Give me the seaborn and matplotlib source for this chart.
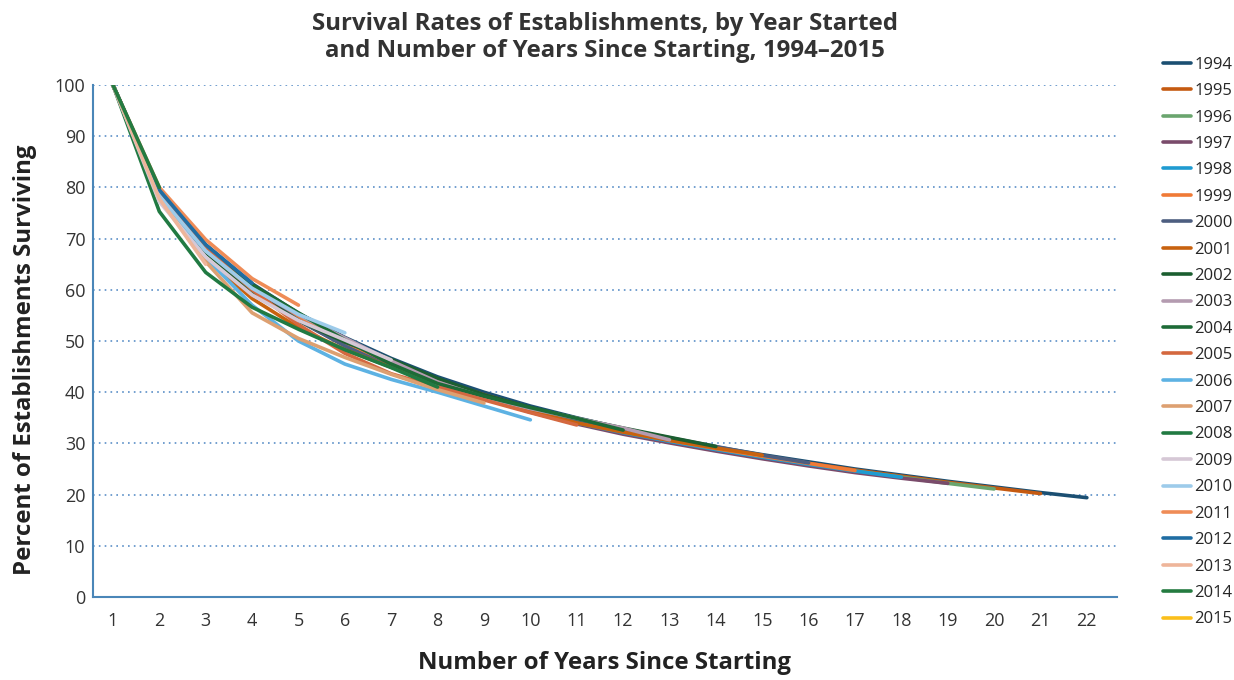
import pandas as pd
import matplotlib
matplotlib.use("Agg")
import matplotlib.pyplot as plt
import seaborn as sns

# survival (%) by number of years since starting, one list per start year
cohorts = [str(y) for y in range(1994, 2016)]
s1994 = [100, 79.5, 68.8, 61.2, 55.4, 50.7, 46.6, 43.0, 40.0, 37.3, 35.0, 32.9, 31.0, 29.3, 27.8, 26.4, 25.0, 23.8, 22.6, 21.5, 20.4, 19.4]
s1995 = [100, 79.0, 68.0, 60.5, 54.8, 50.0, 45.9, 42.4, 39.5, 36.9, 34.5, 32.4, 30.6, 29.0, 27.5, 26.1, 24.8, 23.6, 22.4, 21.3, 20.2]
s1996 = [100, 78.5, 67.6, 60.0, 54.2, 49.5, 45.5, 42.2, 39.2, 36.5, 34.1, 32.1, 30.4, 28.8, 27.3, 25.9, 24.6, 23.4, 22.2, 21.1]
s1997 = [100, 78.8, 67.8, 60.0, 54.0, 49.2, 45.4, 42.0, 38.8, 36.1, 33.8, 31.8, 30.1, 28.5, 27.0, 25.6, 24.3, 23.2, 22.2]
s1998 = [100, 79.2, 68.2, 60.5, 54.4, 49.7, 45.8, 42.0, 38.9, 36.3, 34.0, 32.1, 30.4, 28.8, 27.3, 25.9, 24.6, 23.4]
s1999 = [100, 79.3, 68.4, 60.8, 54.6, 49.8, 45.5, 41.8, 38.8, 36.3, 34.2, 32.3, 30.6, 29.0, 27.5, 26.1, 24.7]
s2000 = [100, 79.1, 68.0, 60.2, 54.0, 49.0, 44.9, 41.6, 38.9, 36.6, 34.6, 32.8, 31.1, 29.4, 27.7, 26.2]
s2001 = [100, 77.6, 66.2, 58.3, 52.6, 48.3, 44.9, 42.0, 39.2, 36.3, 34.0, 32.2, 30.6, 29.1, 27.7]
s2002 = [100, 78.3, 67.3, 59.6, 54.0, 49.8, 46.4, 42.7, 39.5, 37.0, 34.9, 33.0, 31.2, 29.4]
s2003 = [100, 78.4, 67.6, 60.2, 55.1, 50.6, 46.1, 42.0, 39.0, 36.8, 34.9, 33.0, 30.7]
s2004 = [100, 79.0, 68.5, 61.0, 55.5, 50.2, 45.5, 41.7, 39.2, 37.0, 34.9, 32.6]
s2005 = [100, 79.2, 68.2, 60.0, 53.2, 47.6, 43.6, 41.0, 38.5, 36.0, 33.6]
s2006 = [100, 77.8, 66.3, 57.0, 50.0, 45.5, 42.5, 40.0, 37.3, 34.6]
s2007 = [100, 78.0, 65.5, 55.5, 50.5, 46.8, 43.5, 40.5, 37.9]
s2008 = [100, 75.3, 63.4, 56.6, 52.3, 48.3, 44.8, 41.0]
s2009 = [100, 77.2, 66.4, 59.0, 54.0, 50.2, 46.3]
s2010 = [100, 78.4, 67.6, 60.3, 55.2, 51.6]
s2011 = [100, 80.0, 69.8, 62.2, 57.0]
s2012 = [100, 79.5, 68.8, 61.3]
s2013 = [100, 77.8, 65.0]
s2014 = [100, 80.0]
s2015 = [100]
series = [s1994, s1995, s1996, s1997, s1998, s1999, s2000, s2001, s2002, s2003, s2004,
          s2005, s2006, s2007, s2008, s2009, s2010, s2011, s2012, s2013, s2014, s2015]

colors = ["#1b4f72", "#c55a11", "#6aa56e", "#7a4b6b", "#1f9bd1", "#f07a36", "#4d5e80",
          "#c8620f", "#1b5e30", "#b49bb0", "#1d6b37", "#d4683f", "#5db2e3", "#dda071",
          "#217a42", "#d6c8d6", "#9dcbea", "#ef8c57", "#1f6da3", "#eeb59a", "#247b40",
          "#fbbf1b"]

rows = []
for c, vals in zip(cohorts, series):
    for i, v in enumerate(vals):
        rows.append({"cohort": c, "years": i + 1, "pct": v})
df = pd.DataFrame(rows)

sns.set_style("white")
plt.rcParams["font.family"] = ["Open Sans", "DejaVu Sans"]

fig = plt.figure(figsize=(12.34, 6.8), dpi=100)
ax = fig.add_axes([93 / 1234, 1 - 597 / 680, 1024 / 1234, 512 / 680])

sns.lineplot(data=df, x="years", y="pct", hue="cohort", hue_order=cohorts,
             palette=colors, linewidth=2.6, ax=ax, sort=False)

ax.set_xlim(0.57, 22.65)
ax.set_ylim(0, 100)
ax.set_xticks(range(1, 23))
ax.set_yticks(range(0, 101, 10))
ax.tick_params(axis="both", length=0, labelsize=13, colors="#333333")
ax.tick_params(axis="x", pad=11)
ax.tick_params(axis="y", pad=5.5)
ax.yaxis.grid(True, linestyle=(0, (1, 2.5)), color="#5b8fc7", linewidth=1.2)
ax.xaxis.grid(False)
for side in ["top", "right"]:
    ax.spines[side].set_visible(False)
for side in ["left", "bottom"]:
    ax.spines[side].set_color("#4a86b8")
    ax.spines[side].set_linewidth(1.5)

ax.set_xlabel("Number of Years Since Starting", fontsize=17.3, fontweight="bold",
              color="#222222", labelpad=15)
ax.set_ylabel("Percent of Establishments Surviving", fontsize=17.3, fontweight="bold",
              color="#222222")
ax.yaxis.set_label_coords(-0.055, 0.463)
ax.set_title("Survival Rates of Establishments, by Year Started\n"
             "and Number of Years Since Starting, 1994\u20132015",
             fontsize=17.3, fontweight="bold", color="#333333", pad=20, linespacing=1.16)

handles, labels = ax.get_legend_handles_labels()
ax.get_legend().remove()
fig.legend(handles, labels, loc="upper left", bbox_to_anchor=(1156 / 1234, 1 - 50 / 680),
           frameon=False, fontsize=12, handlelength=1.7, handletextpad=0.2,
           labelspacing=0.625, borderaxespad=0)

fig.savefig("out.png", dpi=100)
